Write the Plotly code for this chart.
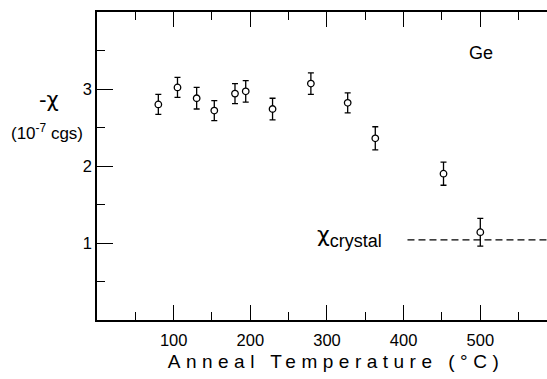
import plotly.graph_objects as go

# Data
anneal_temp = [80, 105, 130, 153, 180, 194, 229, 279, 327, 363, 452, 500]
chi_values = [2.80, 3.02, 2.88, 2.72, 2.94, 2.97, 2.74, 3.07, 2.82, 2.36, 1.90, 1.14]
chi_errors = [0.13, 0.13, 0.14, 0.13, 0.13, 0.14, 0.14, 0.14, 0.13, 0.15, 0.15, 0.18]

crystal_x = [405, 600]
crystal_y = [1.04, 1.04]

x_tickvals = [100, 200, 300, 400, 500]
x_ticktext = ["100", "200", "300", "400", "500"]
y_tickvals = [1, 2, 3]
y_ticktext = ["1", "2", "3"]

FONT = "Liberation Sans"
GREEK = "DejaVu Sans"

fig = go.Figure()

fig.add_trace(go.Scatter(
    x=crystal_x, y=crystal_y, mode="lines",
    line=dict(color="black", width=1.2, dash="7px,4px"),
    hoverinfo="skip", showlegend=False,
))

fig.add_trace(go.Scatter(
    x=anneal_temp, y=chi_values, mode="markers",
    marker=dict(symbol="circle", size=6.5, color="white",
                line=dict(color="black", width=1.3)),
    error_y=dict(type="data", array=chi_errors, visible=True,
                 color="black", thickness=1.3, width=3),
    showlegend=False,
))

axis_common = dict(
    showgrid=False, zeroline=False, showline=True, linecolor="black",
    linewidth=1.5, ticks="inside", tickcolor="black", tickwidth=1.3,
    tickfont=dict(family=FONT, size=16.5, color="black"),
)

fig.update_xaxes(
    range=[0, 587], tickvals=x_tickvals, ticktext=x_ticktext,
    ticklen=15, mirror="allticks", ticklabelstandoff=4,
    minor=dict(tickmode="linear", tick0=0, dtick=50, ticks="inside",
               ticklen=8, tickcolor="black", tickwidth=1.2),
    **axis_common,
)
fig.update_yaxes(
    range=[0, 4], tickvals=y_tickvals, ticktext=y_ticktext,
    ticklen=16, mirror=False, ticklabelstandoff=0,
    minor=dict(tickmode="linear", tick0=0, dtick=0.5, ticks="inside",
               ticklen=8, tickcolor="black", tickwidth=1.2),
    **axis_common,
)

fig.add_annotation(text="Anneal Temperature (°C)", xref="paper", yref="paper",
                   x=0.532, y=-0.135, xanchor="center", yanchor="middle",
                   showarrow=False, font=dict(family=FONT, size=19, color="black"))
fig.add_annotation(text="-χ", xref="paper", yref="paper", x=-0.107, y=0.714,
                   xanchor="center", yanchor="middle",
                   showarrow=False, font=dict(family=GREEK, size=21, color="black"))
fig.add_annotation(text="(10<sup>-7</sup> cgs)", xref="paper", yref="paper",
                   x=-0.111, y=0.612, xanchor="center", yanchor="middle",
                   showarrow=False,
                   font=dict(family=FONT, size=17, color="black"))
fig.add_annotation(text="Ge", xref="paper", yref="paper", x=0.853, y=0.867,
                   xanchor="center", yanchor="middle",
                   showarrow=False, font=dict(family=FONT, size=18, color="black"))
fig.add_annotation(text="χ<sub><span style='font-family:Liberation Sans;font-size:18px'>crystal</span></sub>",
                   xref="paper", yref="paper",
                   x=0.484, y=0.27, xanchor="left", yanchor="middle", showarrow=False,
                   font=dict(family=GREEK, size=22, color="black"))

fig.update_layout(
    width=547, height=379,
    margin=dict(l=97, r=0, t=12, b=59),
    paper_bgcolor="white", plot_bgcolor="white",
)

post = """
document.body.style.margin='0';
document.querySelectorAll('.annotation-text').forEach(function(e){
  if (e.textContent.indexOf('Anneal') === 0) { e.style.letterSpacing='5.5px'; }
});
"""
fig.write_html("out.html", post_script=post, config={"displayModeBar": False})
